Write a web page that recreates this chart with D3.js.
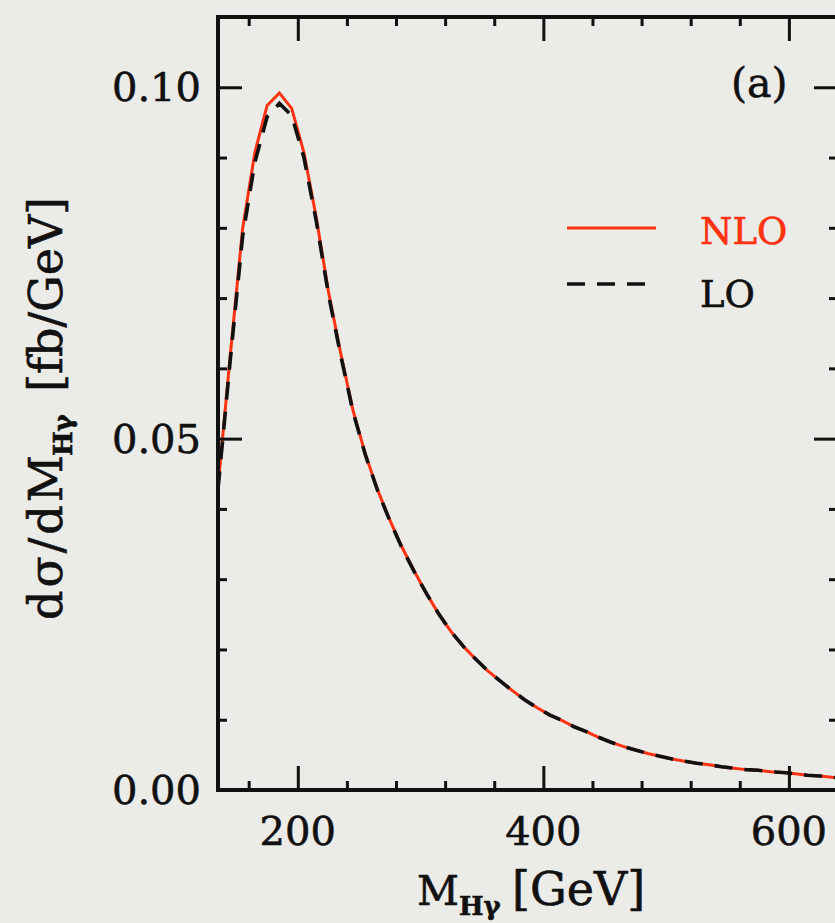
<!DOCTYPE html>
<html>
<head>
<meta charset="utf-8">
<script src="https://cdn.jsdelivr.net/npm/d3@7"></script>
<style>
  html, body { margin: 0; padding: 0; background: #ebebe8; }
  svg { display: block; }
  text { font-family: "DejaVu Serif", serif; fill: #111; stroke: #111; stroke-width: 0.6px; }
</style>
</head>
<body>
<svg id="chart" width="835" height="923"></svg>
<script>
// Invariant-mass distribution of the H + photon system (bin centres, GeV)
const massGeV = [135,145,155,165,175,185,195,205,215,225,235,245,255,265,275,285,295,305,315,325,
  335,345,355,365,375,385,395,405,415,425,435,445,455,465,475,485,495,505,515,525,
  535,545,555,565,575,585,595,605,615,625,635,645];

// dσ/dM [fb/GeV], next-to-leading order
const nloValues = [0.0431,0.0619,0.0798,0.0907,0.0974,0.0992,0.0970,0.0907,0.0815,0.0709,
  0.0621,0.0540,0.0478,0.0427,0.0384,0.0345,0.0311,0.0279,0.0250,0.0225,
  0.0204,0.0186,0.0169,0.0155,0.0141,0.0128,0.0117,0.0107,0.0099,0.0090,
  0.0083,0.0075,0.0068,0.0062,0.0057,0.0052,0.0048,0.0044,0.0041,0.0038,
  0.0036,0.0033,0.0031,0.0029,0.0028,0.0026,0.0025,0.0023,0.0021,0.0020,0.0018,0.0017];

// dσ/dM [fb/GeV], leading order
const loValues = [0.0428,0.0612,0.0787,0.0893,0.0958,0.0977,0.0960,0.0900,0.0810,0.0705,
  0.0618,0.0538,0.0477,0.0426,0.0383,0.0344,0.0310,0.0279,0.0250,0.0225,
  0.0204,0.0186,0.0169,0.0155,0.0141,0.0128,0.0117,0.0107,0.0099,0.0090,
  0.0083,0.0075,0.0068,0.0062,0.0057,0.0052,0.0048,0.0044,0.0041,0.0038,
  0.0036,0.0033,0.0031,0.0029,0.0028,0.0026,0.0025,0.0023,0.0021,0.0020,0.0018,0.0017];

const xMajorTicks = [200, 400, 600];
const xMinorTicks = [160,240,280,320,360,440,480,520,560,640];
const yMajorTicks = [0.00, 0.05, 0.10];
const yMinorTicks = [0.01,0.02,0.03,0.04,0.06,0.07,0.08,0.09];
const yTickLabels = ["0.00", "0.05", "0.10"];
const seriesNames = ["NLO", "LO"];

const red = "#ff3311";
const ink = "#111";
const svg = d3.select("#chart");

const plotLeft = 218, plotRight = 838, plotTop = 17, plotBottom = 790;
const x = d3.scaleLinear().domain([135, 640]).range([plotLeft, plotRight]);
const y = d3.scaleLinear().domain([0, 0.11]).range([plotBottom, plotTop]);

// clip region for the curves
svg.append("defs").append("clipPath").attr("id", "plotClip")
  .append("rect").attr("x", plotLeft).attr("y", plotTop)
  .attr("width", plotRight - plotLeft).attr("height", plotBottom - plotTop);

const nloData = massGeV.map((m, i) => ({ m, v: nloValues[i] }));
const loData = massGeV.map((m, i) => ({ m, v: loValues[i] }));
const line = d3.line().x(d => x(d.m)).y(d => y(d.v));

const curves = svg.append("g").attr("clip-path", "url(#plotClip)");
curves.append("path").datum(nloData).attr("d", line)
  .attr("fill", "none").attr("stroke", red).attr("stroke-width", 3);
curves.append("path").datum(loData).attr("d", line)
  .attr("fill", "none").attr("stroke", ink).attr("stroke-width", 3.6)
  .attr("stroke-dasharray", "18,12");

// axes: ticks drawn inward on all four sides
const majorLen = 24, minorLen = 9;
function styleAxis(g) {
  g.select(".domain").remove();
  g.selectAll(".tick line").attr("stroke", ink).attr("stroke-width", 3);
  g.selectAll(".tick text").remove();
}
svg.append("g").attr("transform", `translate(0,${plotBottom})`)
  .call(d3.axisTop(x).tickValues(xMajorTicks).tickSize(majorLen)).call(styleAxis);
svg.append("g").attr("transform", `translate(0,${plotBottom})`)
  .call(d3.axisTop(x).tickValues(xMinorTicks).tickSize(minorLen)).call(styleAxis);
svg.append("g").attr("transform", `translate(0,${plotTop})`)
  .call(d3.axisBottom(x).tickValues(xMajorTicks).tickSize(majorLen)).call(styleAxis);
svg.append("g").attr("transform", `translate(0,${plotTop})`)
  .call(d3.axisBottom(x).tickValues(xMinorTicks).tickSize(minorLen)).call(styleAxis);
svg.append("g").attr("transform", `translate(${plotLeft},0)`)
  .call(d3.axisRight(y).tickValues(yMajorTicks).tickSize(majorLen)).call(styleAxis);
svg.append("g").attr("transform", `translate(${plotLeft},0)`)
  .call(d3.axisRight(y).tickValues(yMinorTicks).tickSize(minorLen)).call(styleAxis);
svg.append("g").attr("transform", `translate(${plotRight},0)`)
  .call(d3.axisLeft(y).tickValues(yMajorTicks).tickSize(majorLen)).call(styleAxis);
svg.append("g").attr("transform", `translate(${plotRight},0)`)
  .call(d3.axisLeft(y).tickValues(yMinorTicks).tickSize(minorLen)).call(styleAxis);

// frame
svg.append("rect").attr("x", plotLeft).attr("y", plotTop)
  .attr("width", plotRight - plotLeft).attr("height", plotBottom - plotTop)
  .attr("fill", "none").attr("stroke", ink).attr("stroke-width", 4);

// tick labels
svg.append("g").selectAll("text").data(xMajorTicks).join("text")
  .attr("x", d => x(d)).attr("y", 845).attr("text-anchor", "middle")
  .attr("font-size", 40).text(d => d);
svg.append("g").selectAll("text").data(yMajorTicks).join("text")
  .attr("x", 201).attr("y", d => y(d) + 14).attr("text-anchor", "end")
  .attr("font-size", 40).text((d, i) => yTickLabels[i]);

// x-axis title
const xt = svg.append("text").attr("y", 905).attr("font-size", 46);
xt.append("tspan").attr("x", 417).attr("font-size", 41).text("M");
xt.append("tspan").attr("font-size", 26).attr("font-weight", "bold").attr("dy", 10).text("Hγ");
xt.append("tspan").attr("x", 512).attr("dy", -10).text("[GeV]");

// y-axis title (reads bottom to top)
const yt = svg.append("text").attr("transform", "translate(62,620) rotate(-90)").attr("font-size", 46);
yt.append("tspan").attr("x", 0).attr("letter-spacing", 3).text("dσ/dM");
yt.append("tspan").attr("x", 164).attr("font-size", 26).attr("font-weight", "bold").attr("dy", 10).text("Hγ");
yt.append("tspan").attr("x", 228).attr("dy", -10).text("[fb/GeV]");

// panel label
svg.append("text").attr("x", 731).attr("y", 97).attr("font-size", 41).text("(a)");

// legend
const legendRows = [
  { name: seriesNames[0], color: red, dash: null, ly: 228, ty: 244 },
  { name: seriesNames[1], color: ink, dash: "18,12", ly: 284, ty: 307 }
];
const lg = svg.append("g");
legendRows.forEach(r => {
  lg.append("line").attr("x1", 567).attr("x2", 656).attr("y1", r.ly).attr("y2", r.ly)
    .attr("stroke", r.color).attr("stroke-width", r.dash ? 3.6 : 3)
    .attr("stroke-dasharray", r.dash);
  lg.append("text").attr("x", 700).attr("y", r.ty).attr("font-size", 37)
    .style("fill", r.color).style("stroke", r.color).text(r.name);
});
</script>
</body>
</html>
